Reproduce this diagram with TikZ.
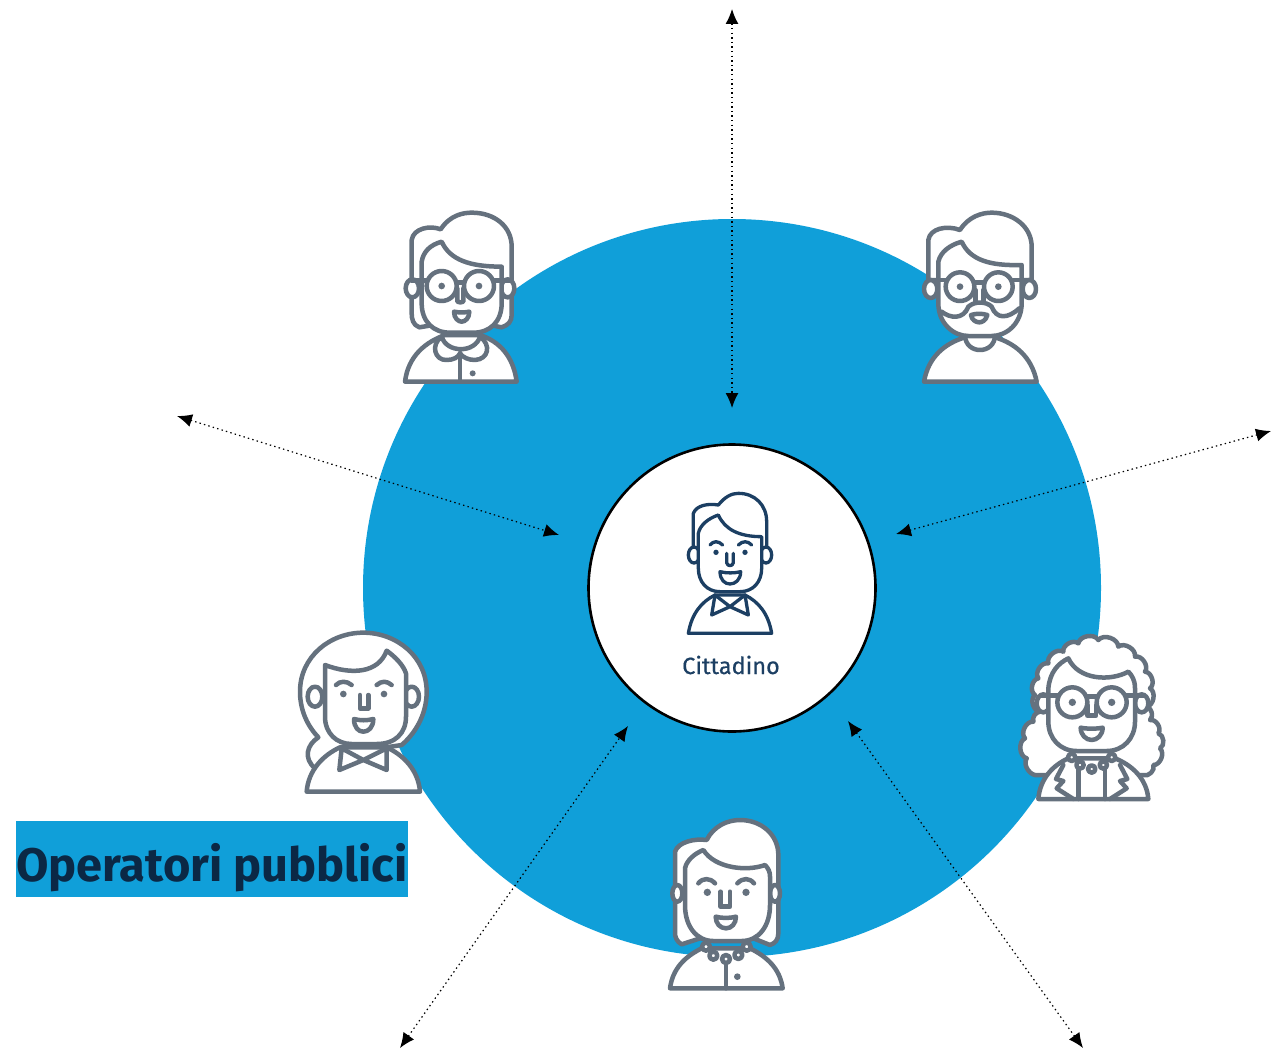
\documentclass[tikz,border=0pt]{standalone}
\usepackage{fontspec}
\setmainfont{Fira Sans}
\definecolor{discblue}{HTML}{109FD9}
\definecolor{persongrey}{HTML}{65717E}
\definecolor{navy}{HTML}{1C3F63}
\definecolor{darktext}{HTML}{0B2845}
\usetikzlibrary{arrows.meta}
\tikzset{
  zoomat/.style={shift={(#1)},x=.33333pt,y=-.33333pt},
  greyline/.style={draw=persongrey,line width=4.5pt,line join=round,line cap=round},
  navyline/.style={draw=navy,line width=3.3pt,line join=round,line cap=round},
  shapefill/.style={fill=white},
  link/.style={draw=black,line width=1.2pt,dash pattern=on 1.4pt off 3.2pt,{Latex[length=15pt,width=13pt]}-{Latex[length=15pt,width=13pt]}},
}
\begin{document}
\begin{tikzpicture}[x=1pt,y=-1pt]
\useasboundingbox (0,0) rectangle (1281,1049);
\node[circle,fill=discblue,minimum size=738pt,inner sep=0pt] (disc) at (732,588) {};
\node[circle,fill=white,draw=black,line width=2.6pt,minimum size=287pt,inner sep=0pt] (centre) at (732,588) {};
\node[fill=discblue,minimum width=392pt,minimum height=76pt,inner sep=0pt] (labelbox) at (212,859) {};
\node[text=darktext,font=\bfseries\fontsize{47}{47}\selectfont,inner sep=0pt] (labeltext) at (212,868) {Operatori pubblici};
\node[text=navy,font=\addfontfeature{FakeBold=0.5}\fontsize{23.5}{23.5}\selectfont,inner sep=0pt] (cittadino) at (731,665) {Cittadino};
% arrows
\coordinate (t1) at (732,9); \coordinate (h1) at (732,408);
\coordinate (t2) at (177,416); \coordinate (h2) at (559,535);
\coordinate (t3) at (1271,431); \coordinate (h3) at (896,534);
\coordinate (t4) at (400,1048); \coordinate (h4) at (628,726);
\coordinate (t5) at (1083,1048); \coordinate (h5) at (848,721);
\foreach \i in {1,...,5} {\draw[link] (t\i) -- (h\i);}
% person 1: woman with glasses
\begin{scope}[zoomat={380,190},greyline]
\path[greyline,shapefill] (160,405) -- (118,412) .. controls (98,405) and (95,385) .. (95,370) -- (95,150) .. controls (100,115) and (150,105) .. (182,118) .. controls (210,75) and (250,68) .. (275,68) .. controls (345,68) and (395,110) .. (395,170) -- (395,375) .. controls (395,395) and (385,405) .. (365,412) -- (330,405) -- cycle;
\path[greyline,shapefill] (97,295) ellipse (20 and 27) (383,295) ellipse (20 and 27);
\path[greyline,shapefill] (75,575) .. controls (85,495) and (140,455) .. (195,435) -- (300,435) .. controls (360,455) and (400,500) .. (410,575) -- cycle;
\path[greyline,shapefill] (125,340) -- (125,215) .. controls (130,185) and (150,165) .. (185,155) .. controls (210,210) and (270,230) .. (365,230) -- (365,340) .. controls (365,395) and (330,428) .. (280,428) -- (210,428) .. controls (160,428) and (125,395) .. (125,340) -- cycle;
\path[greyline,shapefill] (185,288) circle (45) (297,288) circle (45);
\path[greyline] (95,272) -- (140,272) (342,272) -- (390,272) (230,278) -- (252,278);
\path[greyline] (232,295) -- (232,335) .. controls (238,338) and (245,338) .. (250,335) -- (250,295);
\path[greyline,shapefill] (222,365) .. controls (235,368) and (255,368) .. (268,365) .. controls (268,385) and (255,395) .. (245,395) .. controls (235,395) and (222,385) .. (222,365) -- cycle;
\fill[persongrey] (185,288) circle (10) (297,288) circle (10) (278,550) circle (9);
\path[greyline] (240,505) -- (240,575);
\path[greyline,shapefill] (185,440) .. controls (150,465) and (165,512) .. (200,510) .. controls (220,510) and (235,502) .. (240,490) .. controls (248,502) and (265,510) .. (285,510) .. controls (325,508) and (335,465) .. (300,440) .. controls (285,490) and (200,490) .. (185,440) -- cycle;
\end{scope}
% person 2: bearded man
\begin{scope}[zoomat={900,190},greyline]
\path[greyline,shapefill] (85,270) -- (85,150) .. controls (90,115) and (140,105) .. (180,120) .. controls (205,80) and (245,68) .. (275,68) .. controls (340,68) and (395,110) .. (395,170) -- (395,270) -- cycle;
\path[greyline,shapefill] (92,297) ellipse (20 and 27) (388,297) ellipse (20 and 27);
\path[greyline,shapefill] (72,575) .. controls (85,500) and (135,460) .. (195,442) -- (285,442) .. controls (345,460) and (395,500) .. (410,575) -- cycle;
\path[greyline,shapefill] (195,435) .. controls (195,495) and (285,495) .. (285,435) -- cycle;
\path[greyline,shapefill] (115,340) -- (115,215) .. controls (122,185) and (150,165) .. (185,155) .. controls (210,210) and (270,228) .. (365,225) -- (365,340) .. controls (365,400) and (320,438) .. (275,438) -- (205,438) .. controls (160,438) and (115,400) .. (115,340) -- cycle;
\path[greyline,shapefill] (180,290) circle (43) (295,290) circle (43);
\path[greyline] (85,270) -- (135,270) (340,270) -- (395,270) (222,278) -- (252,278);
\path[greyline] (226,300) -- (226,335) (250,300) -- (250,335);
\path[greyline] (125,365) .. controls (150,385) and (190,390) .. (205,350) .. controls (225,332) and (260,335) .. (275,350) .. controls (290,390) and (325,385) .. (358,355);
\path[greyline,shapefill] (213,375) .. controls (230,370) and (245,370) .. (262,375) .. controls (258,392) and (245,397) .. (238,397) .. controls (228,397) and (215,390) .. (213,375) -- cycle;
\fill[persongrey] (180,290) circle (10) (295,290) circle (10);
\end{scope}
% person 3: central citizen
\begin{scope}[zoomat={650,470},navyline]
\path[navyline,shapefill] (130,240) -- (130,130) .. controls (140,105) and (175,100) .. (205,105) .. controls (225,80) and (245,70) .. (265,70) .. controls (315,70) and (350,105) .. (350,155) -- (350,240) -- cycle;
\path[navyline,shapefill] (132,255) ellipse (17 and 24) (348,255) ellipse (17 and 24);
\path[navyline,shapefill] (115,490) .. controls (125,430) and (155,395) .. (195,375) -- (285,375) .. controls (325,395) and (355,430) .. (365,490) -- cycle;
\path[navyline,shapefill] (145,295) -- (145,190) .. controls (150,165) and (175,145) .. (205,135) .. controls (225,180) and (270,200) .. (335,200) -- (335,295) .. controls (335,335) and (310,365) .. (270,365) -- (210,365) .. controls (170,365) and (145,335) .. (145,295) -- cycle;
\fill[navy] (198,247) circle (8) (285,247) circle (8);
\path[navyline] (180,225) .. controls (190,212) and (205,212) .. (218,225) (265,225) .. controls (278,212) and (293,212) .. (305,225);
\path[navyline] (230,250) -- (230,278) .. controls (232,290) and (248,290) .. (250,278) -- (250,250);
\path[navyline,shapefill] (210,305) .. controls (230,310) and (252,310) .. (272,305) .. controls (272,330) and (255,342) .. (240,342) .. controls (225,342) and (210,330) .. (210,305) -- cycle;
\path[navyline,shapefill] (195,375) -- (185,435) -- (240,410) -- (295,435) -- (285,375) -- (240,410) -- cycle;
\end{scope}
% person 4: woman with long hair
\begin{scope}[zoomat={280,620},greyline]
\path[greyline,shapefill] (105,445) .. controls (70,415) and (80,375) .. (115,352) .. controls (75,310) and (60,260) .. (60,215) .. controls (60,110) and (150,38) .. (250,38) .. controls (350,38) and (440,110) .. (440,215) .. controls (440,290) and (400,345) .. (365,375) -- (200,400) -- cycle;
\path[greyline,shapefill] (105,230) ellipse (22 and 30) (395,230) ellipse (22 and 30);
\path[greyline,shapefill] (80,515) .. controls (85,450) and (130,405) .. (180,382) -- (320,382) .. controls (370,405) and (415,450) .. (420,515) -- cycle;
\path[greyline,shapefill] (135,290) -- (135,135) .. controls (215,165) and (295,160) .. (320,92) .. controls (345,110) and (370,135) .. (378,160) -- (378,290) .. controls (378,340) and (345,372) .. (290,372) -- (215,372) .. controls (170,372) and (135,340) .. (135,290) -- cycle;
\fill[persongrey] (190,222) circle (10) (312,222) circle (10);
\path[greyline] (168,195) .. controls (180,182) and (200,182) .. (215,195) (290,195) .. controls (305,182) and (320,182) .. (335,195);
\path[greyline] (240,225) -- (240,265) -- (265,265) -- (265,225);
\path[greyline,shapefill] (222,297) .. controls (240,302) and (262,302) .. (280,297) .. controls (280,322) and (265,335) .. (250,335) .. controls (235,335) and (222,322) .. (222,297) -- cycle;
\path[greyline,shapefill] (185,385) -- (178,450) -- (250,420) -- (320,450) -- (320,385) -- (250,420) -- cycle;
\end{scope}
% person 5: curly woman
\begin{scope}[zoomat={1010,625},greyline]
\path[greyline,shapefill] (85,450) to[bend left=70] (50,400) to[bend left=70] (45,340) to[bend left=70] (70,290) to[bend left=50] (90,260) to[bend left=70] (75,210) to[bend left=70] (85,160) to[bend left=70] (115,115) to[bend left=70] (160,80) to[bend left=70] (205,55) to[bend left=70] (265,45) to[bend left=70] (325,65) to[bend left=70] (375,95) to[bend left=70] (405,140) to[bend left=70] (420,190) to[bend left=70] (410,245) to[bend left=60] (420,285) to[bend left=70] (445,325) to[bend left=70] (450,370) to[bend left=70] (430,420) to[bend left=70] (400,450) -- cycle;
\path[greyline,shapefill] (100,235) ellipse (20 and 27) (395,235) ellipse (20 and 27);
\path[greyline,shapefill] (85,522) .. controls (90,460) and (130,420) .. (175,400) -- (315,400) .. controls (365,420) and (410,460) .. (415,522) -- cycle;
\path[greyline] (205,430) -- (205,522) (285,430) -- (285,522);
\path[greyline] (160,420) -- (138,462) -- (160,468) -- (140,490) -- (190,522) (330,420) -- (352,462) -- (330,468) -- (350,490) -- (300,522);
\path[greyline,shapefill] (115,290) -- (115,190) .. controls (120,140) and (145,115) .. (175,100) .. controls (205,165) and (300,170) .. (355,140) .. controls (365,150) and (375,165) .. (375,190) -- (375,290) .. controls (375,340) and (340,378) .. (290,378) -- (200,378) .. controls (150,378) and (115,340) .. (115,290) -- cycle;
\path[greyline,shapefill] (187,232) circle (45) (305,232) circle (45);
\path[greyline] (95,212) -- (142,212) (350,212) -- (400,212) (232,215) -- (260,215);
\path[greyline] (232,240) -- (232,272) -- (258,272) -- (258,240);
\path[greyline,shapefill] (212,308) .. controls (230,312) and (260,312) .. (278,308) .. controls (278,330) and (262,345) .. (245,345) .. controls (228,345) and (212,330) .. (212,308) -- cycle;
\fill[persongrey] (187,232) circle (11) (305,232) circle (11);
\path[greyline,shapefill] (185,397) circle (11) (210,420) circle (11) (245,432) circle (11) (280,420) circle (11) (305,397) circle (11);
\end{scope}
% person 6: woman with necklace
\begin{scope}[zoomat={650,805},greyline]
\path[greyline,shapefill] (150,400) -- (95,418) .. controls (80,410) and (75,395) .. (75,385) -- (75,140) .. controls (85,110) and (135,100) .. (170,105) .. controls (190,65) and (230,45) .. (270,45) .. controls (335,45) and (385,90) .. (385,150) -- (385,385) .. controls (385,405) and (375,415) .. (360,420) -- (310,400) -- cycle;
\path[greyline,shapefill] (82,265) ellipse (15 and 25) (375,265) ellipse (15 and 25);
\path[greyline,shapefill] (60,550) .. controls (68,490) and (105,455) .. (155,430) -- (300,430) .. controls (350,455) and (390,490) .. (398,550) -- cycle;
\path[greyline] (228,470) -- (228,550);
\path[greyline,shapefill] (105,300) -- (105,190) .. controls (110,165) and (135,145) .. (160,135) .. controls (195,190) and (290,200) .. (345,180) .. controls (355,190) and (360,200) .. (360,215) -- (360,300) .. controls (360,365) and (325,408) .. (275,408) -- (190,408) .. controls (140,408) and (105,365) .. (105,300) -- cycle;
\fill[persongrey] (172,262) circle (11) (288,262) circle (11) (262,515) circle (10);
\path[greyline] (145,235) .. controls (158,218) and (180,218) .. (195,235) (262,235) .. controls (278,218) and (298,218) .. (312,235);
\path[greyline] (212,260) -- (212,305) -- (240,305) -- (240,260);
\path[greyline,shapefill] (197,335) .. controls (215,340) and (240,340) .. (258,335) .. controls (258,355) and (245,370) .. (228,370) .. controls (210,370) and (197,355) .. (197,335) -- cycle;
\path[greyline,shapefill] (168,425) circle (12) (190,452) circle (12) (228,462) circle (12) (265,450) circle (12) (290,425) circle (12);
\end{scope}
\end{tikzpicture}
\end{document}
